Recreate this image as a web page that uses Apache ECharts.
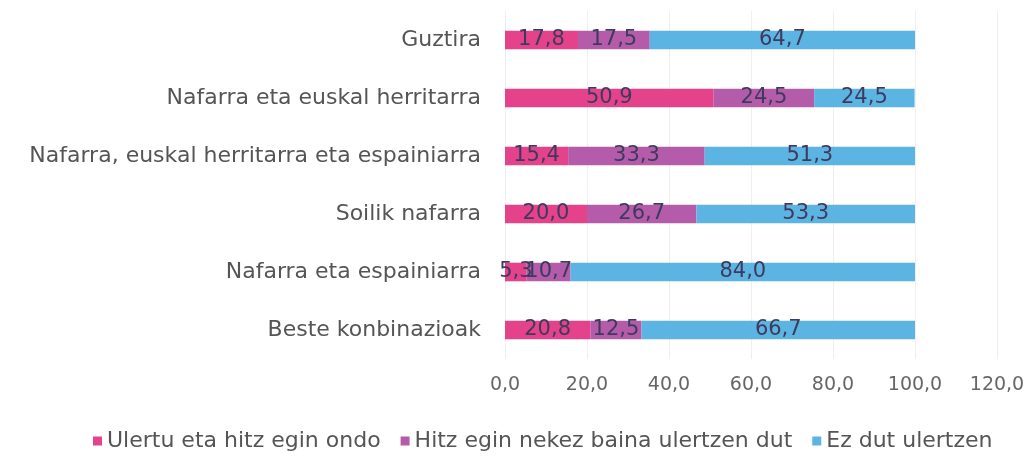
<!DOCTYPE html>
<html><head><meta charset="utf-8">
<script src="https://cdn.jsdelivr.net/npm/echarts@6/dist/echarts.min.js"></script>
<style>html,body{margin:0;padding:0;background:#fff}#c{width:1034px;height:470px}</style>
</head><body><div id="c"></div>
<script>
const categories = ["Guztira","Nafarra eta euskal herritarra","Nafarra, euskal herritarra eta espainiarra","Soilik nafarra","Nafarra eta espainiarra","Beste konbinazioak"];
const seriesNames = ["Ulertu eta hitz egin ondo","Hitz egin nekez baina ulertzen dut","Ez dut ulertzen"];
const ondo = [17.8,50.9,15.4,20.0,5.3,20.8];
const nekez = [17.5,24.5,33.3,26.7,10.7,12.5];
const ez = [64.7,24.5,51.3,53.3,84.0,66.7];
const xTicks = [0,20,40,60,80,100,120];
const colors = ["#E5428C","#B45BAA","#5CB4E2"];
const font = "DejaVu Sans, Verdana, sans-serif";
const fmt = v => v.toFixed(1).replace('.', ',');
const chart = echarts.init(document.getElementById('c'));
const vals = [ondo, nekez, ez];
chart.setOption({
  animation:false,
  grid:{left:505,right:37,top:11,bottom:111,containLabel:false},
  legend:{bottom:13,left:88,itemWidth:9,itemHeight:9,itemGap:20,icon:'rect',
    textStyle:{fontFamily:font,fontSize:22,color:'#555'},data:seriesNames},
  xAxis:{type:'value',min:xTicks[0],max:xTicks[xTicks.length-1],interval:20,
    axisLine:{show:false},axisTick:{show:false},
    axisLabel:{margin:17,fontFamily:font,fontSize:19,color:'#666',formatter:v=>fmt(v)},
    splitLine:{lineStyle:{color:'#efefef'}}},
  yAxis:{type:'category',inverse:true,data:categories,
    axisLine:{show:false},axisTick:{show:false},
    axisLabel:{margin:24,fontFamily:font,fontSize:22,color:'#555'}},
  series: seriesNames.map((n,i)=>({
    name:n,type:'bar',stack:'a',barWidth:'32%',data:vals[i],
    itemStyle:{color:colors[i]},
    label:{show:true,position:'inside',fontFamily:font,fontSize:21,color:'#3e3a5e',
      formatter:p=>fmt(p.value)}
  }))
});
</script></body></html>
